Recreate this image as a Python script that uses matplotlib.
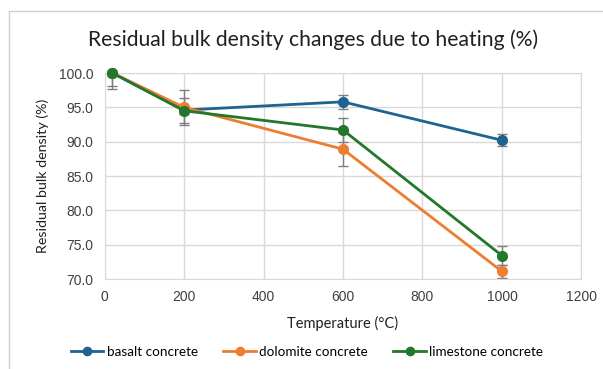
import matplotlib
matplotlib.use("Agg")
import matplotlib.pyplot as plt
from matplotlib.patches import Rectangle

temps = [20, 200, 600, 1000]
series_names = ["basalt concrete", "dolomite concrete", "limestone concrete"]
basalt = [100.0, 94.6, 95.8, 90.2]
dolomite = [100.0, 95.0, 88.9, 71.1]
limestone = [100.0, 94.5, 91.7, 73.4]
basalt_err = [0.5, 0.6, 1.0, 0.9]
dolomite_err = [2.4, 2.5, 2.4, 1.0]
limestone_err = [1.9, 1.8, 1.8, 1.4]
colors = ["#1F6391", "#ED7D31", "#22782A"]
xticks = [0, 200, 400, 600, 800, 1000, 1200]
yticks = [70.0, 75.0, 80.0, 85.0, 90.0, 95.0, 100.0]

W, H = 603, 369
fig = plt.figure(figsize=(W / 100, H / 100), dpi=100)
ax = fig.add_axes([104.5 / W, 1 - 279 / H, (581.5 - 104.5) / W, (279 - 73) / H])

# chart border
fig.patches.append(Rectangle((9 / W, -0.1), 1.2, 1 - 11 / H + 0.1, transform=fig.transFigure,
                             fill=False, edgecolor="#d0d0d0", linewidth=1.0))

data = [basalt, dolomite, limestone]
errs = [basalt_err, dolomite_err, limestone_err]
for name, vals, e, c in zip(series_names, data, errs, colors):
    ax.errorbar(temps, vals, yerr=e, fmt="none", ecolor="#7f7f7f", elinewidth=1.0,
                capsize=3.5, capthick=1.0, zorder=2, clip_on=True)
for name, vals, c in zip(series_names, data, colors):
    ax.plot(temps, vals, color=c, linewidth=2.0, marker="o", markersize=7,
            label=name, zorder=3, clip_on=False)

ax.set_xlim(0, 1200)
ax.set_ylim(70, 100)
ax.set_xticks(xticks)
ax.set_yticks(yticks)
ax.set_yticklabels([f"{v:.1f}" for v in yticks])
ax.grid(True, color="#d9d9d9", linewidth=1.0)
ax.set_axisbelow(True)
for s in ax.spines.values():
    s.set_color("#d9d9d9")
ax.tick_params(length=0, labelsize=10, labelcolor="#404040", pad=8)
for lab in ax.get_xticklabels() + ax.get_yticklabels():
    lab.set_fontfamily("Liberation Sans")

fig.text(313 / W, 1 - 40 / H, "Residual bulk density changes due to heating (%)",
         ha="center", va="center", fontsize=15.2, family="Lato", color="#202020")
fig.text(343 / W, 1 - 323 / H, "Temperature (°C)", ha="center", va="center",
         fontsize=10.5, family="Lato", color="#202020")
fig.text(43 / W, 1 - 176 / H, "Residual bulk density (%)", ha="center", va="center",
         rotation=90, fontsize=10.3, family="Lato", color="#202020")

leg = fig.legend(loc="center", bbox_to_anchor=(307 / W, 1 - 352 / H), ncol=3, frameon=False,
                 prop={"family": "Lato", "size": 9.7}, handlelength=2.4, columnspacing=1.9,
                 handletextpad=0.25, markerscale=0.85)

fig.savefig("out.png", dpi=100)
